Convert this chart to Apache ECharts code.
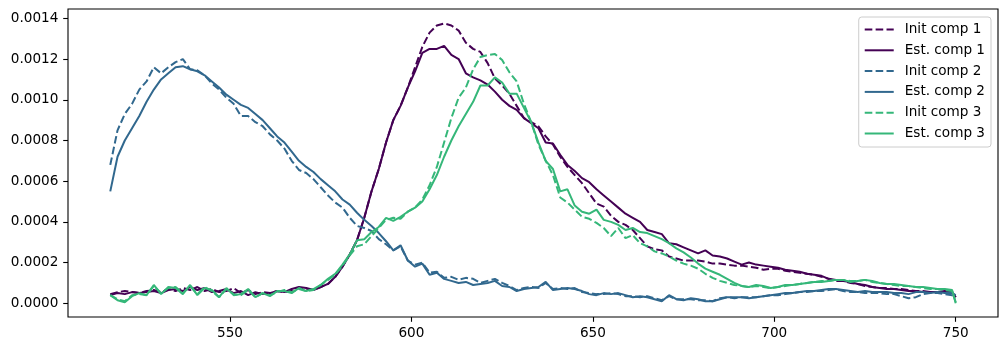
<!DOCTYPE html>
<html>
<head>
<meta charset="utf-8">
<script src="https://cdn.jsdelivr.net/npm/echarts@6/dist/echarts.min.js"></script>
<style>
html,body{margin:0;padding:0;background:#fff;}
#chart{width:1007px;height:351px;}
</style>
</head>
<body>
<div id="chart"></div>
<script>
// Wavelength positions
const wavelengths = [
517,519,521,523,525,527,529,531,533,535,
537,539,541,543,545,547,549,551,553,555,
557,559,561,563,565,567,569,571,573,575,
577,579,581,583,585,587,589,591,593,595,
597,599,601,603,605,607,609,611,613,615,
617,619,621,623,625,627,629,631,633,635,
637,639,641,643,645,647,649,651,653,655,
657,659,661,663,665,667,669,671,673,675,
677,679,681,683,685,687,689,691,693,695,
697,699,701,703,705,707,709,711,713,715,
717,719,721,723,725,727,729,731,733,735,
737,739,741,743,745,747,749,750];

// Values in units of 1e-4
const initComp1 = [
0.45,0.55,0.6,0.55,0.5,0.6,0.65,0.55,0.7,0.6,
0.75,0.65,0.8,0.6,0.7,0.55,0.6,0.75,0.5,0.65,
0.45,0.55,0.5,0.6,0.55,0.6,0.75,0.7,0.65,0.8,
0.95,1.3,1.8,2.4,3.1,4.2,5.5,6.6,7.9,9.0,
9.7,10.6,11.6,12.6,13.3,13.65,13.75,13.65,13.4,12.8,
12.5,12.35,11.8,11.05,10.7,10.3,9.7,9.1,8.9,8.7,
8.2,7.8,7.2,6.7,6.3,5.9,5.4,4.9,4.75,4.3,
4.0,3.85,3.6,3.2,2.8,2.65,2.6,2.3,2.2,2.1,
2.1,2.1,2.05,1.95,1.95,1.9,1.85,1.85,1.8,1.75,
1.65,1.7,1.7,1.6,1.55,1.5,1.45,1.4,1.3,1.2,
1.1,1.1,1.0,0.95,0.85,0.8,0.75,0.75,0.7,0.7,
0.65,0.6,0.6,0.55,0.55,0.55,0.5,0.3];

const estComp1 = [
0.4,0.5,0.45,0.55,0.5,0.55,0.6,0.5,0.65,0.7,
0.6,0.8,0.65,0.75,0.55,0.6,0.7,0.5,0.6,0.4,
0.55,0.45,0.5,0.6,0.55,0.7,0.8,0.75,0.65,0.8,
0.95,1.3,1.8,2.4,3.1,4.2,5.5,6.6,7.9,9.0,
9.7,10.6,11.4,12.3,12.5,12.5,12.65,12.2,12.0,11.3,
11.1,10.95,10.75,10.4,10.0,9.7,9.5,9.1,8.85,8.6,
7.9,7.85,7.3,6.8,6.5,6.15,5.95,5.6,5.3,5.0,
4.7,4.4,4.2,4.0,3.6,3.5,3.4,2.95,2.9,2.75,
2.6,2.45,2.6,2.35,2.3,2.2,2.05,1.9,2.0,1.9,
1.85,1.8,1.75,1.65,1.6,1.55,1.45,1.4,1.35,1.2,
1.15,1.1,1.05,0.95,0.9,0.8,0.75,0.7,0.7,0.65,
0.6,0.6,0.55,0.55,0.55,0.6,0.55,0.3];

const initComp2 = [
6.8,8.5,9.3,9.8,10.5,10.9,11.6,11.3,11.6,11.85,
12.0,11.5,11.45,11.2,10.8,10.5,10.1,9.8,9.2,9.2,
8.9,8.7,8.3,8.0,7.6,7.0,6.55,6.4,6.1,5.7,
5.3,4.95,4.7,4.2,3.8,3.7,3.55,3.15,2.9,2.6,
2.8,2.1,1.9,2.0,1.5,1.55,1.25,1.3,1.15,1.25,
1.2,1.0,1.1,1.2,1.0,0.85,0.65,0.75,0.8,0.75,
1.0,0.7,0.75,0.7,0.75,0.55,0.5,0.45,0.45,0.5,
0.45,0.35,0.35,0.3,0.35,0.25,0.15,0.35,0.2,0.2,
0.2,0.15,0.15,0.1,0.25,0.3,0.25,0.3,0.3,0.3,
0.35,0.4,0.4,0.45,0.5,0.55,0.55,0.6,0.6,0.65,
0.7,0.6,0.55,0.55,0.5,0.5,0.5,0.45,0.45,0.35,
0.25,0.3,0.45,0.5,0.5,0.45,0.4,0.3];

const estComp2 = [
5.5,7.2,8.0,8.6,9.2,9.9,10.5,11.0,11.3,11.6,
11.65,11.5,11.4,11.2,10.9,10.6,10.25,10.0,9.75,9.6,
9.3,9.0,8.6,8.2,7.9,7.45,7.0,6.7,6.45,6.1,
5.8,5.5,5.1,4.85,4.45,4.1,3.8,3.45,3.05,2.6,
2.85,2.1,1.8,1.95,1.4,1.5,1.2,1.1,1.0,1.05,
0.9,0.95,1.0,1.1,0.85,0.8,0.6,0.7,0.75,0.8,
1.05,0.65,0.7,0.75,0.7,0.6,0.45,0.4,0.5,0.45,
0.5,0.4,0.3,0.35,0.3,0.2,0.1,0.4,0.2,0.15,
0.25,0.2,0.1,0.1,0.2,0.3,0.3,0.3,0.25,0.3,
0.35,0.4,0.45,0.5,0.5,0.55,0.6,0.6,0.65,0.7,
0.7,0.65,0.6,0.55,0.6,0.55,0.55,0.55,0.5,0.5,
0.45,0.55,0.55,0.5,0.55,0.5,0.5,0.4];

const initComp3 = [
0.4,0.2,0.1,0.4,0.45,0.4,0.85,0.5,0.75,0.8,
0.5,0.85,0.45,0.8,0.6,0.3,0.7,0.45,0.4,0.65,
0.3,0.5,0.4,0.55,0.65,0.55,0.7,0.6,0.65,0.9,
1.15,1.4,1.85,2.35,2.8,2.9,3.3,3.7,4.1,4.2,
4.15,4.5,4.7,5.1,5.8,6.7,7.9,9.1,10.1,10.6,
11.5,12.1,12.2,12.25,11.95,11.35,10.9,9.8,8.9,7.8,
7.0,6.3,5.2,4.95,4.6,4.25,4.15,3.95,3.7,3.3,
3.7,3.2,3.35,2.95,2.8,2.55,2.45,2.3,2.1,1.95,
1.85,1.7,1.45,1.25,1.1,1.0,0.9,0.85,0.8,0.85,
0.8,0.75,0.8,0.85,0.9,0.95,1.0,1.05,1.1,1.1,
1.15,1.15,1.1,1.1,1.15,1.05,1.0,0.95,0.9,0.85,
0.85,0.8,0.75,0.7,0.7,0.65,0.6,0.05];

const estComp3 = [
0.4,0.15,0.05,0.35,0.5,0.4,0.9,0.45,0.8,0.75,
0.45,0.9,0.4,0.75,0.65,0.3,0.75,0.4,0.45,0.7,
0.3,0.5,0.35,0.6,0.6,0.5,0.75,0.6,0.7,0.9,
1.2,1.45,1.9,2.4,3.1,3.15,3.5,3.75,4.2,4.05,
4.25,4.5,4.7,5.0,5.6,6.3,7.2,8.0,8.7,9.3,
9.9,10.7,10.7,11.1,10.85,10.3,10.3,9.6,8.9,7.9,
7.0,6.6,5.5,5.6,4.8,4.5,4.4,4.6,4.1,4.0,
3.85,3.6,3.7,3.5,3.45,3.3,3.15,2.95,2.7,2.5,
2.25,1.95,1.7,1.55,1.4,1.2,1.0,0.85,0.8,0.9,
0.85,0.75,0.8,0.9,0.9,0.95,1.0,1.05,1.05,1.1,
1.15,1.15,1.05,1.1,1.15,1.1,1.0,0.95,0.95,0.9,
0.85,0.8,0.8,0.75,0.7,0.7,0.65,0.0];

const seriesNames = ['Init comp 1','Est. comp 1','Init comp 2','Est. comp 2','Init comp 3','Est. comp 3'];
const xTicks = [550, 600, 650, 700, 750];
const yTicks = [0, 2, 4, 6, 8, 10, 12, 14];
const yTickLabels = ['0.0000','0.0002','0.0004','0.0006','0.0008','0.0010','0.0012','0.0014'];

const colors = ['#440154', '#440154', '#31688e', '#31688e', '#35b779', '#35b779'];
const dashed = [true, false, true, false, true, false];
const allValues = [initComp1, estComp1, initComp2, estComp2, initComp3, estComp3];

const FONT = 'DejaVu Sans';
const FS = 13.6;

const series = allValues.map((vals, i) => ({
  name: seriesNames[i],
  type: 'line',
  data: wavelengths.map((w, j) => [w, vals[j]]),
  symbol: 'none',
  showSymbol: false,
  smooth: false,
  lineStyle: {color: colors[i], width: 2, type: dashed[i] ? [7.6, 3.3] : 'solid', cap: 'butt'},
  itemStyle: {color: colors[i]},
  emphasis: {disabled: true},
  z: 2 + i
}));

const chart = echarts.init(document.getElementById('chart'), null, {renderer: 'canvas'});
chart.setOption({
  animation: false,
  backgroundColor: '#ffffff',
  textStyle: {fontFamily: FONT},
  grid: {left: 68, right: 9, top: 9, bottom: 34, show: true, borderColor: '#000', borderWidth: 1.1, backgroundColor: 'transparent', z: 10},
  legend: {
    orient: 'vertical',
    right: 16,
    top: 17,
    data: seriesNames,
    itemWidth: 29,
    itemHeight: 14,
    itemGap: 6.8,
    padding: [5.5, 6, 6.5, 5],
    backgroundColor: 'rgba(255,255,255,0.8)',
    borderColor: '#cccccc',
    borderWidth: 1,
    borderRadius: 3,
    itemStyle: {color: 'rgba(0,0,0,0)', borderWidth: 0, opacity: 0},
    lineStyle: {width: 2},
    textStyle: {fontFamily: FONT, fontSize: FS, color: '#000', padding: [0, 0, 0, 6], lineHeight: 14},
    selectedMode: false,
    z: 20
  },
  xAxis: {
    type: 'value',
    min: 505.35,
    max: 761.65,
    axisLine: {show: false, onZero: false},
    splitLine: {show: false},
    axisTick: {show: true, length: 4.8, lineStyle: {color: '#000', width: 1.1}, customValues: xTicks},
    axisLabel: {show: true, margin: 9.6, color: '#000', fontFamily: FONT, fontSize: FS, customValues: xTicks, formatter: v => String(v)}
  },
  yAxis: {
    type: 'value',
    min: -0.674,
    max: 14.46,
    axisLine: {show: false, onZero: false},
    splitLine: {show: false},
    axisTick: {show: true, length: 4.8, lineStyle: {color: '#000', width: 1.1}, customValues: yTicks},
    axisLabel: {show: true, margin: 9.6, color: '#000', fontFamily: FONT, fontSize: FS, customValues: yTicks,
      formatter: v => { const k = yTicks.indexOf(Math.round(v)); return k >= 0 ? yTickLabels[k] : ''; }}
  },
  series: series
});
</script>
</body>
</html>
